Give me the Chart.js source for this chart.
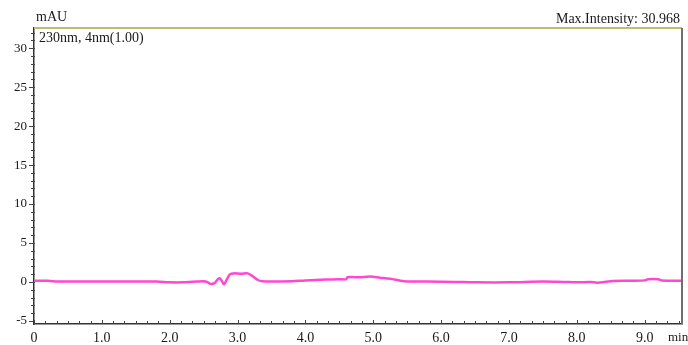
<!DOCTYPE html>
<html>
<head>
<meta charset="utf-8">
<script src="https://cdn.jsdelivr.net/npm/chart.js@4"></script>
<style>
  html, body { margin: 0; padding: 0; background: #fff; }
  #wrap { width: 688px; height: 345px; }
</style>
</head>
<body>
<div id="wrap"><canvas id="chrom" width="688" height="345"></canvas></div>
<script>
// ── Data ──
const times = [0, 0.2, 0.35, 0.6, 1.0, 1.4, 1.8, 2.0, 2.2, 2.4,
  2.5, 2.55, 2.6, 2.66, 2.71, 2.74, 2.77, 2.8, 2.84, 2.89,
  2.95, 3.05, 3.15, 3.22, 3.3, 3.36, 3.5, 3.8, 4.0, 4.3,
  4.5, 4.6, 4.62, 4.8, 4.95, 5.1, 5.25, 5.4, 5.5, 5.8,
  6.2, 6.5, 7.0, 7.5, 7.8, 8.0, 8.2, 8.3, 8.5, 8.8,
  9.0, 9.05, 9.2, 9.25, 9.55];
const intensity = [0.15, 0.15, 0.05, 0.05, 0.05, 0.05, 0.05, -0.05, -0.05, 0.05,
  0.1, 0.0, -0.25, -0.15, 0.35, 0.45, 0.1, -0.3, 0.3, 1.0,
  1.1, 1.05, 1.1, 0.75, 0.25, 0.1, 0.05, 0.1, 0.2, 0.3,
  0.35, 0.35, 0.6, 0.6, 0.7, 0.55, 0.4, 0.15, 0.05, 0.05,
  0.0, -0.05, -0.05, 0.05, 0.0, -0.05, 0.0, -0.1, 0.1, 0.15,
  0.2, 0.35, 0.35, 0.2, 0.15];

const xTickValues = [0, 1, 2, 3, 4, 5, 6, 7, 8, 9];
const xTickLabels = ['0', '1.0', '2.0', '3.0', '4.0', '5.0', '6.0', '7.0', '8.0', '9.0'];
const yTickValues = [-5, 0, 5, 10, 15, 20, 25, 30];
const yTickLabels = ['-5', '0', '5', '10', '15', '20', '25', '30'];

const FONT = '"Liberation Serif", "Times New Roman", serif';
const TEXT = '#1a1a1a';

// ── Frame, minor ticks and captions ──
const decor = {
  id: 'decor',
  afterDraw(chart) {
    const ctx = chart.ctx;
    const a = chart.chartArea;
    const x = chart.scales.x, y = chart.scales.y;
    ctx.save();

    // top + right frame
    ctx.lineWidth = 2;
    ctx.strokeStyle = '#bcbc72';
    ctx.beginPath(); ctx.moveTo(a.left, a.top); ctx.lineTo(a.right, a.top); ctx.stroke();
    ctx.strokeStyle = '#6e6e6e';
    ctx.beginPath(); ctx.moveTo(a.right, a.top); ctx.lineTo(a.right, a.bottom); ctx.stroke();

    // ticks
    ctx.strokeStyle = '#444';
    ctx.lineWidth = 1;
    for (let i = 0; i <= 57; i++) {
      const px = Math.round(x.getPixelForValue(i / 6)) + 0.5;
      if (px > a.right - 2) break;
      ctx.beginPath(); ctx.moveTo(px, a.bottom); ctx.lineTo(px, a.bottom - (i % 6 === 0 ? 4 : 3)); ctx.stroke();
    }
    for (let v = -5; v <= 32; v++) {
      const py = Math.round(y.getPixelForValue(v)) + 0.5;
      const len = v % 5 === 0 ? 5 : 3;
      ctx.beginPath(); ctx.moveTo(a.left - len, py); ctx.lineTo(a.left + 1, py); ctx.stroke();
    }

    // captions
    ctx.fillStyle = TEXT;
    ctx.font = '14px ' + FONT;
    ctx.textBaseline = 'middle';
    ctx.textAlign = 'left';
    ctx.fillText('mAU', 36, 17);
    ctx.fillText('230nm, 4nm(1.00)', a.left + 5, a.top + 10);
    ctx.font = '13px ' + FONT;
    ctx.fillText('min', 668, 338);
    ctx.font = '14px ' + FONT;
    ctx.textAlign = 'right';
    ctx.fillText('Max.Intensity: 30.968', 680, 19);
    ctx.restore();
  }
};

new Chart(document.getElementById('chrom'), {
  type: 'line',
  data: {
    datasets: [{
      data: times.map(function(t, i) { return { x: t, y: intensity[i] }; }),
      borderColor: '#ff48d0',
      borderWidth: 2.5,
      pointRadius: 0,
      tension: 0.3,
      fill: false
    }]
  },
  options: {
    responsive: false,
    animation: false,
    devicePixelRatio: 1,
    layout: { padding: { top: 28, right: 6, left: 0, bottom: 0 } },
    plugins: { legend: { display: false }, tooltip: { enabled: false } },
    scales: {
      x: {
        type: 'linear', min: 0, max: 9.55,
        afterBuildTicks: function(s) { s.ticks = xTickValues.map(function(v) { return { value: v }; }); },
        afterFit: function(s) { s.height = 21; },
        ticks: {
          padding: 6, color: TEXT, font: { family: FONT, size: 14 },
          maxRotation: 0, autoSkip: false,
          callback: function(v) { const i = xTickValues.indexOf(v); return i < 0 ? '' : xTickLabels[i]; }
        },
        grid: { display: false, drawTicks: false },
        border: { color: '#333', width: 1.5 }
      },
      y: {
        type: 'linear', min: -5.4, max: 32.6,
        afterBuildTicks: function(s) { s.ticks = yTickValues.map(function(v) { return { value: v }; }); },
        afterFit: function(s) { s.width = 34; },
        ticks: {
          padding: 7, color: TEXT, font: { family: FONT, size: 13 },
          callback: function(v) { const i = yTickValues.indexOf(v); return i < 0 ? '' : yTickLabels[i]; }
        },
        grid: { display: false, drawTicks: false },
        border: { color: '#333', width: 1.5 }
      }
    }
  },
  plugins: [decor]
});
</script>
</body>
</html>
